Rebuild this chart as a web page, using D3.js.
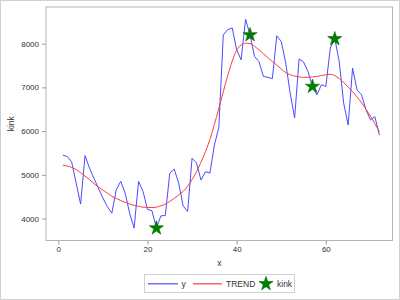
<!DOCTYPE html>
<html>
<head>
<meta charset="utf-8">
<script src="https://cdn.jsdelivr.net/npm/d3@7"></script>
<style>
  body { margin: 0; background: #fff; }
  svg { display: block; font-family: "Liberation Sans", Arial, sans-serif; }
  .tick text { fill: #333; font-size: 8px; }
  .tick line { stroke: #999; }
  .label { fill: #333; font-size: 8.5px; }
</style>
</head>
<body>
<svg id="chart" width="400" height="300"></svg>
<script>
// Data
const xs = [1,2,3,4,5,6,7,8,9,10,11,12,13,14,15,16,17,18,19,20,21,22,23,24,
  25,26,27,28,29,30,31,32,33,34,35,36,37,38,39,40,41,42,43,44,45,46,47,48,
  49,50,51,52,53,54,55,56,57,58,59,60,61,62,63,64,65,66,67,68,69,70,71,72];

const yValues = [5450,5420,5290,4810,4330,5440,5150,4920,4690,4470,4270,4120,
  4660,4850,4580,4120,3780,4850,4620,4210,4180,3780,4060,4070,
  5040,5130,4810,4290,4160,5380,5270,4880,5070,5040,5680,6080,
  8200,8320,8360,7860,7630,8560,8200,7710,7590,7250,7230,7200,
  8180,8050,7560,6870,6300,7650,7580,7360,7020,6830,7060,7020,
  7900,8120,7590,6640,6140,7440,6940,6830,6490,6260,6330,5910];

const trendValues = [5220,5200,5170,5120,5050,4970,4890,4800,4720,4650,4580,4510,
  4460,4410,4370,4330,4300,4280,4260,4255,4250,4260,4290,4330,
  4390,4460,4540,4620,4740,4890,5070,5290,5530,5810,6150,6520,
  6900,7270,7600,7850,7970,8010,8000,7940,7860,7770,7680,7590,
  7510,7420,7340,7290,7260,7240,7230,7230,7240,7250,7270,7290,
  7300,7270,7200,7110,7010,6900,6780,6650,6500,6340,6170,5990];

const kinkX = [22, 43, 57, 62];
const kinkY = [3780, 8200, 7020, 8110];

const xTicks = [0, 20, 40, 60];
const yTicks = [4000, 5000, 6000, 7000, 8000];

const blue = '#4b4bff';
const red = '#ff3c3c';

const svg = d3.select('#chart');

// outer frame
svg.append('rect')
  .attr('x', 0.5).attr('y', 0.5)
  .attr('width', 399).attr('height', 299)
  .attr('fill', '#fff')
  .attr('stroke', '#d0d0d0');

const plot = { left: 46, top: 7, right: 392.5, bottom: 240.5 };

const xScale = d3.scaleLinear()
  .domain([-2.76, 74.95])
  .range([plot.left, plot.right]);

const yScale = d3.scaleLinear()
  .domain([3497, 8839])
  .range([plot.bottom, plot.top]);

// axes
const xAxis = svg.append('g')
  .attr('transform', `translate(0, ${plot.bottom})`)
  .call(d3.axisBottom(xScale).tickValues(xTicks).tickSize(4).tickPadding(2)
    .tickFormat(d3.format('d')));
const yAxis = svg.append('g')
  .attr('transform', `translate(${plot.left}, 0)`)
  .call(d3.axisLeft(yScale).tickValues(yTicks).tickSize(4).tickPadding(3)
    .tickFormat(d3.format('d')));
[xAxis, yAxis].forEach(a => {
  a.select('.domain').remove();
  a.attr('font-family', null).attr('font-size', null);
});

// plot frame
svg.append('rect')
  .attr('x', plot.left).attr('y', plot.top)
  .attr('width', plot.right - plot.left)
  .attr('height', plot.bottom - plot.top)
  .attr('fill', 'none')
  .attr('stroke', '#b4b4b4');

// lines
const yLine = d3.line()
  .x((d, i) => xScale(xs[i]))
  .y(d => yScale(d));

svg.append('path')
  .datum(yValues)
  .attr('fill', 'none')
  .style('stroke', blue)
  .attr('stroke-width', 1)
  .attr('d', yLine);

svg.append('path')
  .datum(trendValues)
  .attr('fill', 'none')
  .style('stroke', red)
  .attr('stroke-width', 1)
  .attr('d', yLine.curve(d3.curveMonotoneX));

// kink stars
const star = d3.symbol().type(d3.symbolStar).size(62);
svg.append('g')
  .selectAll('path')
  .data(kinkX)
  .enter()
  .append('path')
  .attr('transform', (d, i) => `translate(${xScale(d)}, ${yScale(kinkY[i])})`)
  .attr('d', star)
  .attr('fill', '#008000')
  .attr('stroke', '#006400')
  .attr('stroke-width', 0.6);

// axis labels
svg.append('text')
  .attr('class', 'label')
  .attr('x', (plot.left + plot.right) / 2)
  .attr('y', 266)
  .attr('text-anchor', 'middle')
  .text('x');

svg.append('text')
  .attr('class', 'label')
  .attr('transform', `translate(14, ${(plot.top + plot.bottom) / 2}) rotate(-90)`)
  .attr('text-anchor', 'middle')
  .text('kink');

// legend
const legend = svg.append('g');
legend.append('rect')
  .attr('x', 144.5).attr('y', 274.5)
  .attr('width', 150).attr('height', 18)
  .attr('fill', '#fff')
  .attr('stroke', '#d0d0d0');

const ly = 283.8;
legend.append('rect')
  .attr('x', 148).attr('y', ly - 0.6)
  .attr('width', 30).attr('height', 1.2)
  .attr('fill', blue);
legend.append('text')
  .attr('class', 'label')
  .attr('x', 181.5).attr('y', ly + 3)
  .text('y');
legend.append('rect')
  .attr('x', 193).attr('y', ly - 0.6)
  .attr('width', 29).attr('height', 1.2)
  .attr('fill', red);
legend.append('text')
  .attr('class', 'label')
  .attr('x', 226).attr('y', ly + 3)
  .text('TREND');
legend.append('path')
  .attr('transform', `translate(266, ${ly})`)
  .attr('d', star)
  .attr('fill', '#008000')
  .attr('stroke', '#006400')
  .attr('stroke-width', 0.6);
legend.append('text')
  .attr('class', 'label')
  .attr('x', 277).attr('y', ly + 3)
  .text('kink');
</script>
</body>
</html>
